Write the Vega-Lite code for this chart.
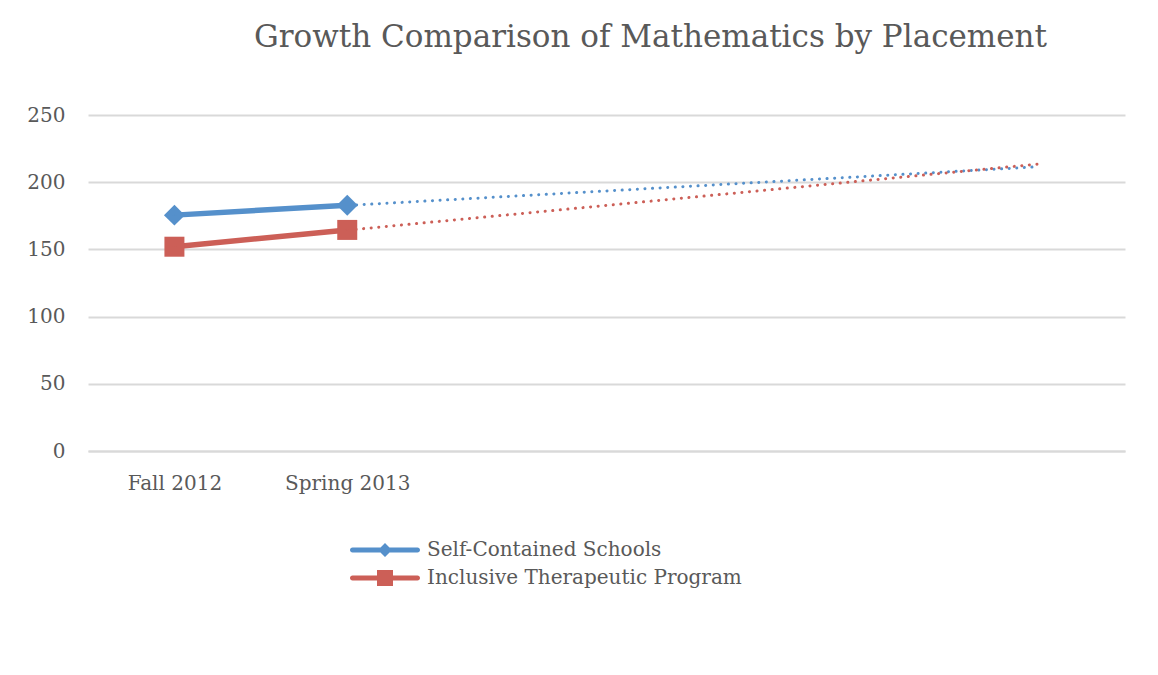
{
  "$schema": "https://vega.github.io/schema/vega-lite/v6.json",
  "width": 1037,
  "height": 336,
  "autosize": "none",
  "padding": {"left": 88, "top": 115, "right": 33, "bottom": 224},
  "background": "white",
  "title": {
    "text": "Growth Comparison of Mathematics by Placement",
    "font": "DejaVu Serif",
    "fontSize": 31,
    "fontWeight": "normal",
    "color": "#595959",
    "anchor": "middle",
    "frame": "group",
    "dx": 44,
    "offset": 51
  },
  "config": {
    "view": {"stroke": null},
    "axis": {
      "labelFont": "DejaVu Serif",
      "labelFontSize": 20,
      "labelColor": "#595959",
      "titleFont": "DejaVu Serif"
    },
    "legend": {
      "labelFont": "DejaVu Serif",
      "labelFontSize": 20,
      "labelColor": "#595959",
      "orient": "none",
      "legendX": 287,
      "legendY": 425,
      "title": null,
      "symbolSize": 400,
      "symbolStrokeWidth": 0,
      "rowPadding": 8,
      "labelOffset": 32,
      "labelLimit": 500
    }
  },
  "data": {
    "values": [
      {"series": "Self-Contained Schools", "period": "Fall 2012", "value": 175.5, "kind": "actual"},
      {"series": "Self-Contained Schools", "period": "Spring 2013", "value": 182.8, "kind": "actual"},
      {"series": "Inclusive Therapeutic Program", "period": "Fall 2012", "value": 152, "kind": "actual"},
      {"series": "Inclusive Therapeutic Program", "period": "Spring 2013", "value": 164.5, "kind": "actual"},
      {"series": "Self-Contained Schools", "period": "Fall 2012", "value": 175.5, "kind": "trend"},
      {"series": "Self-Contained Schools", "period": "P6", "value": 211.5, "kind": "trend"},
      {"series": "Inclusive Therapeutic Program", "period": "Fall 2012", "value": 152, "kind": "trend"},
      {"series": "Inclusive Therapeutic Program", "period": "P6", "value": 213.5, "kind": "trend"}
    ]
  },
  "encoding": {
    "x": {
      "field": "period",
      "type": "ordinal",
      "sort": null,
      "scale": {"type": "point", "padding": 0.5, "domain": ["Fall 2012", "Spring 2013", "P3", "P4", "P5", "P6"]},
      "axis": {
        "title": null,
        "values": ["Fall 2012", "Spring 2013"],
        "labelAngle": 0,
        "ticks": false,
        "domain": true,
        "domainColor": "#d9d9d9",
        "domainWidth": 2,
        "labelPadding": 22,
        "grid": false
      }
    },
    "y": {
      "field": "value",
      "type": "quantitative",
      "scale": {"domain": [0, 250], "nice": false, "zero": true},
      "axis": {
        "title": null,
        "values": [0, 50, 100, 150, 200, 250],
        "ticks": false,
        "domain": false,
        "grid": true,
        "gridColor": "#d9d9d9",
        "gridWidth": 2,
        "labelPadding": 23
      }
    },
    "color": {
      "field": "series", "type": "nominal",
      "scale": {"domain": ["Self-Contained Schools", "Inclusive Therapeutic Program"], "range": ["#5590CB", "#CC5F57"]}
    }
  },
  "layer": [
    {
      "transform": [{"filter": "datum.kind === 'trend'"}],
      "mark": {"type": "line", "strokeWidth": 3, "strokeDash": [0.1, 7.5], "strokeCap": "round"},
      "encoding": {}
    },
    {
      "transform": [{"filter": "datum.kind === 'actual'"}],
      "mark": {"type": "line", "strokeWidth": 5.5},
      "encoding": {}
    },
    {
      "transform": [{"filter": "datum.kind === 'actual' && datum.series === 'Self-Contained Schools'"}],
      "mark": {"type": "point", "filled": true, "opacity": 1, "size": 440, "shape": "diamond"}
    },
    {
      "transform": [{"filter": "datum.kind === 'actual' && datum.series === 'Inclusive Therapeutic Program'"}],
      "mark": {"type": "point", "filled": true, "opacity": 1, "size": 400, "shape": "square"}
    },
    {
      "transform": [{"filter": "datum.kind === 'actual'"}],
      "mark": {"type": "point", "filled": true, "opacity": 1, "size": 1},
      "encoding": {
        "shape": {
          "field": "series", "type": "nominal",
          "scale": {
            "domain": ["Self-Contained Schools", "Inclusive Therapeutic Program"],
            "range": [
              "M-3.25,-0.25H3.25A0.25,0.25 0 0 1 3.25,0.25H-3.25A0.25,0.25 0 0 1 -3.25,-0.25Z M0,-0.7L0.7,0L0,0.7L-0.7,0Z",
              "M-3.25,-0.25H3.25A0.25,0.25 0 0 1 3.25,0.25H-3.25A0.25,0.25 0 0 1 -3.25,-0.25Z M-0.8,-0.8H0.8V0.8H-0.8Z"
            ]
          }
        }
      }
    }
  ]
}
